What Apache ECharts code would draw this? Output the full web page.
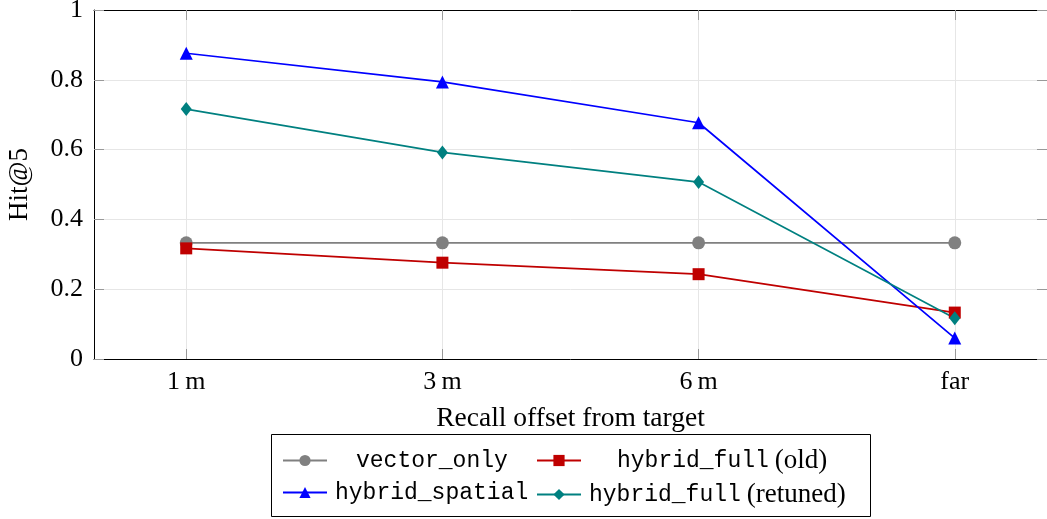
<!DOCTYPE html>
<html>
<head>
<meta charset="utf-8">
<script src="https://cdn.jsdelivr.net/npm/echarts@6/dist/echarts.min.js"></script>
<style>
html, body { margin: 0; padding: 0; background: #fff; }
#chart { width: 1047px; height: 519px; }
</style>
</head>
<body>
<div id="chart"></div>
<script>
// recall offsets (x categories)
const offsets = ["1\u2009m", "3\u2009m", "6\u2009m", "far"];
const yTicks = [0, 0.2, 0.4, 0.6, 0.8, 1];

const vectorOnly = [0.333, 0.333, 0.333, 0.333];
const hybridFullOld = [0.317, 0.276, 0.243, 0.133];
const hybridSpatial = [0.876, 0.794, 0.677, 0.06];
const hybridFullRetuned = [0.716, 0.592, 0.507, 0.117];

const serif = "'Liberation Serif', 'DejaVu Serif', serif";
const mono = "'Liberation Mono', 'DejaVu Sans Mono', monospace";

const toPoints = arr => arr.map((v, i) => [i, v]);
const catIdx = offsets.map((c, i) => i);

const chart = echarts.init(document.getElementById("chart"));

// legend labels: typewriter name + roman suffix, centred by hand
const legendNames = {
    "vector_only": "{g|}{s1|}{m|vector_only}",
    "hybrid_spatial": "{g|}{m|hybrid_spatial}",
    "hybrid_full (old)": "{g|}{s2|}{m|hybrid_full}{sp|}{r|(old)}",
    "hybrid_full (retuned)": "{g|}{m|hybrid_full}{sp|}{r|(retuned)}"
};

const legendText = {
    color: "#000",
    rich: {
        m: { fontFamily: mono, fontSize: 23, color: "#000", lineHeight: 26 },
        r: { fontFamily: serif, fontSize: 27, color: "#000", lineHeight: 26 },
        g: { width: 3, lineHeight: 26 },
        s1: { width: 21, lineHeight: 26 },
        s2: { width: 28, lineHeight: 26 },
        sp: { width: 6, lineHeight: 26 }
    }
};

const mkSeries = (name, data, color, symbol, size) => ({
    name: name,
    type: "line",
    data: toPoints(data),
    symbol: symbol,
    symbolSize: size,
    showSymbol: true,
    lineStyle: { color: color, width: 1.7 },
    itemStyle: { color: color },
    emphasis: { disabled: true },
    z: 3
});

const tickStyle = { show: true, inside: true, length: 10, lineStyle: { color: "#999" } };

const option = {
    animation: false,
    backgroundColor: "#fff",
    grid: { left: 94, right: 0, top: 10, bottom: 160, containLabel: false, outerBoundsMode: "none" },
    graphic: [
        {
            type: "rect",
            shape: { x: 271.5, y: 434.5, width: 599, height: 82 },
            style: { fill: "#fff", stroke: "#000", lineWidth: 1 },
            z: -1
        }
    ],
    legend: [
        {
            data: ["vector_only", "hybrid_spatial"],
            orient: "vertical",
            left: 277,
            top: 444,
            itemWidth: 44,
            itemHeight: 14,
            itemGap: 9,
            formatter: n => legendNames[n],
            textStyle: legendText
        },
        {
            data: ["hybrid_full (old)", "hybrid_full (retuned)"],
            orient: "vertical",
            left: 531,
            top: 442,
            itemWidth: 44,
            itemHeight: 14,
            itemGap: 7,
            formatter: n => legendNames[n],
            textStyle: legendText
        }
    ],
    xAxis: [
        {
            type: "value",
            min: -0.36,
            max: 3.36,
            name: "Recall offset from target",
            nameLocation: "middle",
            nameGap: 46,
            nameTextStyle: { fontFamily: serif, fontSize: 27.5, color: "#000" },
            axisLine: { show: true, onZero: false, lineStyle: { color: "#000", width: 1 } },
            axisTick: Object.assign({ customValues: catIdx }, tickStyle),
            axisLabel: {
                customValues: catIdx,
                margin: 10,
                fontFamily: serif,
                fontSize: 26,
                color: "#000",
                formatter: v => offsets[Math.round(v)]
            },
            splitLine: { show: true, lineStyle: { color: "#e6e6e6", width: 1 } }
        },
        {
            type: "value",
            position: "top",
            min: -0.36,
            max: 3.36,
            axisLine: { show: true, onZero: false, lineStyle: { color: "#000", width: 1 } },
            axisTick: Object.assign({ customValues: catIdx }, tickStyle),
            axisLabel: { show: false, customValues: catIdx },
            splitLine: { show: false }
        }
    ],
    yAxis: [
        {
            type: "value",
            min: 0,
            max: 1,
            interval: 0.2,
            name: "Hit@5",
            nameLocation: "middle",
            nameGap: 61,
            nameTextStyle: { fontFamily: serif, fontSize: 27, color: "#000" },
            axisLine: { show: true, onZero: false, lineStyle: { color: "#000", width: 1 } },
            axisTick: tickStyle,
            axisLabel: {
                margin: 11,
                fontFamily: serif,
                fontSize: 26,
                color: "#000",
                formatter: v => String(+v.toFixed(1))
            },
            splitLine: { show: true, lineStyle: { color: "#e6e6e6", width: 1 } }
        },
        {
            type: "value",
            position: "right",
            min: 0,
            max: 1,
            interval: 0.2,
            axisLine: { show: true, onZero: false, lineStyle: { color: "#000", width: 1 } },
            axisTick: tickStyle,
            axisLabel: { show: false },
            splitLine: { show: false }
        }
    ],
    series: [
        mkSeries("vector_only", vectorOnly, "#808080", "circle", 13),
        mkSeries("hybrid_full (old)", hybridFullOld, "#bf0000", "rect", 12),
        mkSeries("hybrid_spatial", hybridSpatial, "#0000ff", "triangle", 13),
        mkSeries("hybrid_full (retuned)", hybridFullRetuned, "#008080", "diamond", [11, 14])
    ]
};

chart.setOption(option);
</script>
</body>
</html>
